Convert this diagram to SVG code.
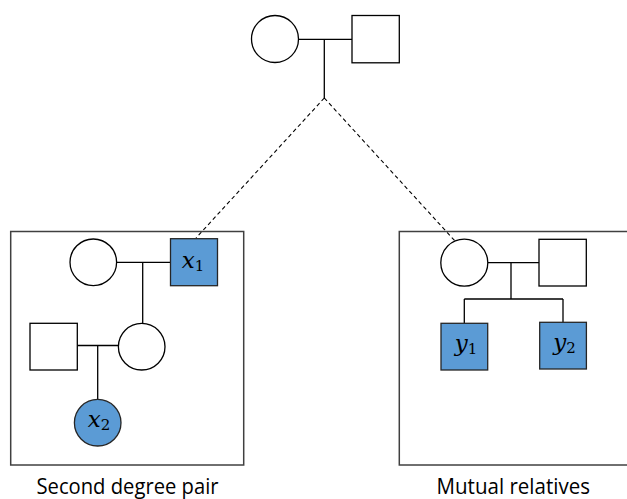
<svg xmlns="http://www.w3.org/2000/svg" width="627" height="499" viewBox="0 0 627 499">
<style>
.n{fill:#fff;stroke:#000;stroke-width:1.3}
.a{fill:#5B9BD5;stroke:#262626;stroke-width:1.3}
.l{fill:none;stroke:#000;stroke-width:1.3}
.d{fill:none;stroke:#000;stroke-width:1.1;stroke-dasharray:4 3}
.box{fill:none;stroke:#404040;stroke-width:1.5}
.m{font-family:"DejaVu Serif",serif;font-style:italic;font-size:23px;fill:#000;text-anchor:middle}
.s{font-size:15px;font-style:normal}
.cap{font-family:"Open Sans","Liberation Sans",sans-serif;font-size:21px;fill:#000}
</style>
<rect width="627" height="499" fill="#fff"/>
<g id="connectors">
<path class="l" d="M298.5 39.3H352M324.3 39.3V98"/>
<path class="d" d="M324.3 98L196 238M324.3 98L455 241"/>
<path class="l" d="M116.6 262.3H170.5M142.7 262.3V323.4"/>
<path class="l" d="M77.3 345.5H118.4M97.7 345.5V399.4"/>
<path class="l" d="M487.8 262.7H539M511 262.7V299M464.3 299H563M464.3 299V323.3M563 299V322.3"/>
</g>
<g id="boxes">
<rect id="box-left" class="box" x="10.7" y="231.5" width="233" height="233.5"/>
<rect id="box-right" class="box" x="399.3" y="231.5" width="240" height="233.5"/>
</g>
<g id="top-mother"><circle class="n" cx="275" cy="39" r="23.5"/></g>
<g id="top-father"><rect class="n" x="352" y="15.5" width="47.3" height="47.3"/></g>
<g id="l-mother"><circle class="n" cx="93.3" cy="262.3" r="23.3"/></g>
<g id="x1"><rect class="a" x="170.5" y="238.7" width="47" height="47"/>
<text class="m" x="193" y="267.5">x<tspan class="s" dy="3">1</tspan></text></g>
<g id="l-father"><rect class="n" x="30" y="323.3" width="47.3" height="46.7"/></g>
<g id="l-daughter"><circle class="n" cx="141.7" cy="346.7" r="23.3"/></g>
<g id="x2"><circle class="a" cx="97.7" cy="422.7" r="23.3"/>
<text class="m" x="99" y="427">x<tspan class="s" dy="3">2</tspan></text></g>
<g id="r-mother"><circle class="n" cx="464.3" cy="262.7" r="23.5"/></g>
<g id="r-father"><rect class="n" x="539" y="239.3" width="47.3" height="46.7"/></g>
<g id="y1"><rect class="a" x="441" y="323.3" width="46.7" height="46.7"/>
<text class="m" x="466" y="350.5">y<tspan class="s" dy="3">1</tspan></text></g>
<g id="y2"><rect class="a" x="539.7" y="322.3" width="46.7" height="46.7"/>
<text class="m" x="564.5" y="349.5">y<tspan class="s" dy="3">2</tspan></text></g>
<g id="labels">
<text class="cap" x="36.5" y="494" textLength="182" lengthAdjust="spacingAndGlyphs">Second degree pair</text>
<text class="cap" x="436.5" y="494" textLength="153.5" lengthAdjust="spacingAndGlyphs">Mutual relatives</text>
</g>
</svg>
